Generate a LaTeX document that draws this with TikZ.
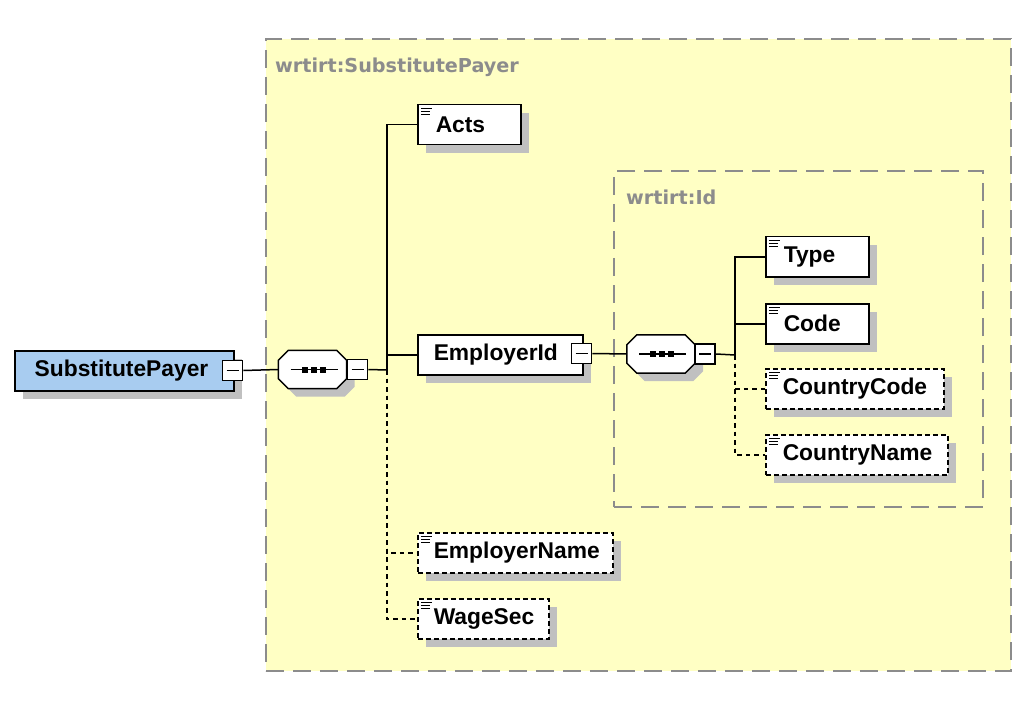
\documentclass[tikz,border=0pt]{standalone}
\usepackage{fontspec}
\setmainfont{Liberation Sans}
\newfontfamily\lblfont{DejaVu Sans}
\usetikzlibrary{shadows}
\definecolor{xyellow}{HTML}{FFFFC4}
\definecolor{xblue}{HTML}{A8CCF0}
\definecolor{xshadow}{HTML}{C0C0C0}
\definecolor{xgray}{HTML}{8C8C8C}
\tikzset{
  shd/.style={drop shadow={shadow xshift=8pt, shadow yshift=-8pt, fill=xshadow, opacity=1}},
  grp/.style={draw=xgray, fill=xyellow, line width=2pt, dash pattern=on 18pt off 9pt, anchor=north west, inner sep=0pt},
  grplabel/.style={text=xgray, font=\lblfont\bfseries\fontsize{19.2}{22}\selectfont, anchor=west, inner sep=0pt},
  box/.style={draw=black, line width=1.5pt, fill=white, anchor=north west, minimum height=40pt,
    inner xsep=0pt, inner ysep=0pt, align=left, font=\bfseries\fontsize{22.8}{26}\selectfont, shd},
  elem/.style={box, path picture={
      \draw[solid, line width=1.3pt] ([shift={(3pt,-3.5pt)}]path picture bounding box.north west) -- ++(11pt,0pt);
      \draw[solid, line width=1.3pt] ([shift={(3pt,-6.5pt)}]path picture bounding box.north west) -- ++(9pt,0pt);
      \draw[solid, line width=1.3pt] ([shift={(3pt,-9.5pt)}]path picture bounding box.north west) -- ++(9pt,0pt);}},
  opt/.style={dash pattern=on 5pt off 3pt},
  minus/.style={draw=black, line width=1.8pt, fill=white, minimum size=20pt, inner sep=0pt,
    path picture={\draw[line width=1.4pt] ([xshift=-6pt]path picture bounding box.center) -- ([xshift=6pt]path picture bounding box.center);}},
  seqbox/.style={draw=none, minimum width=68pt, minimum height=38pt, inner sep=0pt},
  conn/.style={line width=1.5pt},
  oconn/.style={line width=1.5pt, dash pattern=on 4.5pt off 4pt},
}
\newcommand\xoct[4]{% style, node, dx, dy
  \path[#1] ([shift={(10pt+#3,#4)}]#2.north west) -- ([shift={(-10pt+#3,#4)}]#2.north east)
   -- ([shift={(#3,-10pt+#4)}]#2.north east) -- ([shift={(#3,10pt+#4)}]#2.south east)
   -- ([shift={(-10pt+#3,#4)}]#2.south east) -- ([shift={(10pt+#3,#4)}]#2.south west)
   -- ([shift={(#3,10pt+#4)}]#2.south west) -- ([shift={(#3,-10pt+#4)}]#2.north west) -- cycle;}
\newcommand\xseqdraw[1]{%
  \xoct{fill=xshadow}{#1}{8pt}{-8pt}
  \xoct{draw=black, fill=white, line width=1.5pt}{#1}{0pt}{0pt}
  \draw[line width=1.5pt] ([xshift=-22pt]#1.center) -- ([xshift=25pt]#1.center);
  \fill ([shift={(-11pt,-3pt)}]#1.center) rectangle ++(6pt,6pt);
  \fill ([shift={(-2pt,-3pt)}]#1.center) rectangle ++(6pt,6pt);
  \fill ([shift={(7pt,-3pt)}]#1.center) rectangle ++(6pt,6pt);
}
\begin{document}
\begin{tikzpicture}[x=1pt,y=-1pt]
\useasboundingbox (0,0) rectangle (1035,703);
% groups
\node[grp, minimum width=745pt, minimum height=632pt] (g1) at (265,38) {};
\node[grplabel] (g1lbl) at (275,67) {wrtirt:SubstitutePayer};
\node[grp, minimum width=369pt, minimum height=336pt] (g2) at (613,170) {};
\node[grplabel] (g2lbl) at (626,197) {wrtirt:Id};
% bus coordinates
\coordinate (bus1) at (387,370);
\coordinate (bus2) at (735,355);
% root
\node[box, fill=xblue, minimum width=219pt, text width=219pt] (sp) at (14,350) {\hspace*{20pt}SubstitutePayer};
\node[minus] (spm) at (232.5,370.5) {};
% sequence 1
\node[seqbox] (seq1) at (312.5,369.5) {};
\xseqdraw{seq1}
\node[minus] (seq1m) at (357.5,369.5) {};
% children of SubstitutePayer
\node[elem, text width=103pt] (acts) at (417,104) {\hspace*{18pt}Acts};
\node[box, text width=165pt] (emp) at (417,334) {\hspace*{16pt}EmployerId};
\node[minus] (empm) at (581.5,353.5) {};
\node[elem, opt, text width=195pt] (empname) at (417,532) {\hspace*{16pt}EmployerName};
\node[elem, opt, text width=131pt] (wage) at (417,598) {\hspace*{16pt}WageSec};
% sequence 2
\node[seqbox] (seq2) at (661,354) {};
\xseqdraw{seq2}
\node[minus] (seq2m) at (705,354) {};
% children of Id
\node[elem, text width=103pt] (type) at (765,236) {\hspace*{18pt}Type};
\node[elem, text width=103pt] (code) at (765,303) {\hspace*{18pt}Code};
\node[elem, opt, text width=178pt] (ccode) at (765,368) {\hspace*{17pt}CountryCode};
\node[elem, opt, text width=182pt] (cname) at (765,434) {\hspace*{17pt}CountryName};
% connectors
\draw[conn] (spm.east) -- (seq1.west);
\draw[conn] (seq1m.east) -- (bus1);
\draw[conn] (acts.west) -| (bus1);
\draw[conn] (emp.west) -- (emp.west -| bus1);
\draw[oconn] (bus1) |- (empname.west);
\draw[oconn] (bus1) |- (wage.west);
\draw[conn] (empm.east) -- (seq2.west);
\draw[conn] (seq2m.east) -- (bus2);
\draw[conn] (type.west) -| (bus2);
\draw[conn] (code.west) -| (bus2);
\draw[oconn] (bus2) |- (ccode.west);
\draw[oconn] (bus2) |- (cname.west);
\end{tikzpicture}
\end{document}
